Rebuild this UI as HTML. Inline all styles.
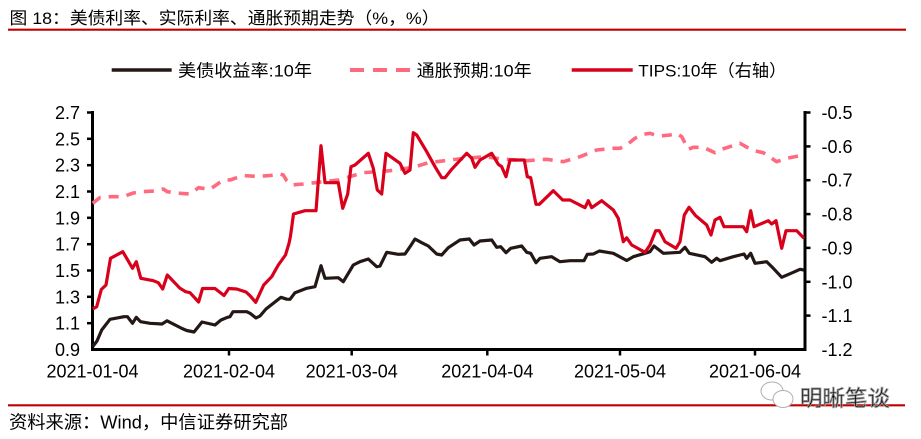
<!DOCTYPE html>
<html>
<head>
<meta charset="utf-8">
<style>
  html, body { margin:0; padding:0; background:#fff; }
  svg { display:block; }
  text { font-family: "Liberation Sans", "Noto Sans CJK SC", sans-serif; fill:#000; }
</style>
</head>
<body>
<svg width="921" height="439" viewBox="0 0 921 439" xmlns="http://www.w3.org/2000/svg">
  <!-- Title -->
  <text x="9.5" y="24" font-size="17" textLength="430" lengthAdjust="spacingAndGlyphs">图 18：美债利率、实际利率、通胀预期走势（%，%）</text>
  <line x1="8" y1="29.7" x2="906" y2="29.7" stroke="#C00000" stroke-width="2.2"/>

  <!-- Legend -->
  <line x1="111.7" y1="70" x2="171.7" y2="70" stroke="#231815" stroke-width="3.5"/>
  <text x="178" y="76.5" font-size="17" textLength="134" lengthAdjust="spacingAndGlyphs">美债收益率:10年</text>
  <line x1="350" y1="70" x2="412" y2="70" stroke="#FF6B7E" stroke-width="4" stroke-dasharray="14,9"/>
  <text x="416.7" y="76.5" font-size="17" textLength="115" lengthAdjust="spacingAndGlyphs">通胀预期:10年</text>
  <line x1="571.7" y1="70" x2="632.7" y2="70" stroke="#D9001B" stroke-width="3.5"/>
  <text x="638.3" y="76.5" font-size="17" textLength="148" lengthAdjust="spacingAndGlyphs">TIPS:10年（右轴）</text>

  <!-- Axes -->
  <g stroke="#000" stroke-width="3">
    <line x1="92.5" y1="111" x2="92.5" y2="351"/>
    <line x1="805" y1="111" x2="805" y2="351"/>
    <line x1="91" y1="349.5" x2="806.5" y2="349.5"/>
  </g>
  <g stroke="#000" stroke-width="2.5">
    <!-- left ticks -->
    <line x1="87" y1="112.5" x2="92" y2="112.5"/>
    <line x1="87" y1="138.8" x2="92" y2="138.8"/>
    <line x1="87" y1="165.2" x2="92" y2="165.2"/>
    <line x1="87" y1="191.5" x2="92" y2="191.5"/>
    <line x1="87" y1="217.8" x2="92" y2="217.8"/>
    <line x1="87" y1="244.2" x2="92" y2="244.2"/>
    <line x1="87" y1="270.5" x2="92" y2="270.5"/>
    <line x1="87" y1="296.8" x2="92" y2="296.8"/>
    <line x1="87" y1="323.2" x2="92" y2="323.2"/>
    <!-- right ticks -->
    <line x1="805" y1="112.5" x2="810.5" y2="112.5"/>
    <line x1="805" y1="146.4" x2="810.5" y2="146.4"/>
    <line x1="805" y1="180.2" x2="810.5" y2="180.2"/>
    <line x1="805" y1="214.1" x2="810.5" y2="214.1"/>
    <line x1="805" y1="247.9" x2="810.5" y2="247.9"/>
    <line x1="805" y1="281.8" x2="810.5" y2="281.8"/>
    <line x1="805" y1="315.6" x2="810.5" y2="315.6"/>
    <!-- x ticks -->
    <line x1="229" y1="349" x2="229" y2="355.5"/>
    <line x1="351.7" y1="349" x2="351.7" y2="355.5"/>
    <line x1="487.3" y1="349" x2="487.3" y2="355.5"/>
    <line x1="620" y1="349" x2="620" y2="355.5"/>
    <line x1="755" y1="349" x2="755" y2="355.5"/>
  </g>

  <!-- Left labels -->
  <g font-size="18" text-anchor="end">
    <text x="80" y="119">2.7</text>
    <text x="80" y="145.3">2.5</text>
    <text x="80" y="171.7">2.3</text>
    <text x="80" y="198">2.1</text>
    <text x="80" y="224.3">1.9</text>
    <text x="80" y="250.7">1.7</text>
    <text x="80" y="277">1.5</text>
    <text x="80" y="303.3">1.3</text>
    <text x="80" y="329.7">1.1</text>
    <text x="80" y="356">0.9</text>
  </g>
  <!-- Right labels -->
  <g font-size="18">
    <text x="821.5" y="119">-0.5</text>
    <text x="821.5" y="152.9">-0.6</text>
    <text x="821.5" y="186.7">-0.7</text>
    <text x="821.5" y="220.6">-0.8</text>
    <text x="821.5" y="254.4">-0.9</text>
    <text x="821.5" y="288.3">-1.0</text>
    <text x="821.5" y="322.1">-1.1</text>
    <text x="821.5" y="356">-1.2</text>
  </g>
  <!-- X labels -->
  <g font-size="18" text-anchor="middle">
    <text x="92.5" y="377.5">2021-01-04</text>
    <text x="229" y="377.5">2021-02-04</text>
    <text x="351.7" y="377.5">2021-03-04</text>
    <text x="487.3" y="377.5">2021-04-04</text>
    <text x="620" y="377.5">2021-05-04</text>
    <text x="755" y="377.5">2021-06-04</text>
  </g>

  <!-- Pink dashed: inflation expectations -->
  <polyline fill="none" stroke="#FF6B7E" stroke-width="3.6" stroke-dasharray="10,8" stroke-linejoin="round"
    points="92.7,203.3 100,197.5 110,196.7 123,196.7 133.3,193 140,191.7 155,191 163.3,189 167.3,191.7 180,193.3 190,194 198.6,187.7 210,189.3 220,182.3 225,179.5 230,180 243.3,175.5 256.7,176.5 270,175.5 280,174 283.3,175 286.7,180.7 291.7,185 303.3,184 323.3,181.7 338.3,180 363.3,172.7 390,170.7 413.3,167.3 428.3,162.7 436.7,161.7 458.3,159 485,156.7 501.7,159 526.7,160.7 546.7,159.3 563.3,161.7 580,156.7 596.7,150 613.3,148.3 620,148.3 626.7,145 635,138.3 643.3,134.3 650,133.3 655,135 660,136 670,135 676.7,133.3 681.7,136.7 688.3,149.3 693.3,147.3 703.3,147.3 715,152.7 721.7,149.3 740,143.3 751.7,150 763.3,152.7 776.7,161.7 786.7,158.3 804,155"/>

  <!-- Black: nominal yield -->
  <polyline fill="none" stroke="#231815" stroke-width="3.2" stroke-linejoin="round"
    points="92.7,346.7 97,341 101.7,330 110,319.3 124,316.7 127.5,316.7 132.5,323.3 136.3,317.3 140.5,321.7 150,323.3 162,324 167,320.8 182,328.5 186.7,330.5 194,332 202,322 215,325 221,320 227.5,317.3 230,316.7 233,311.7 246.7,311.7 250,313.3 256,318 260,316 266,309 281,297.3 286.7,299.2 290,299.3 295,292.7 306.7,288.3 315,286.7 321,265.7 325,278.3 338.3,277.7 343.3,281.7 353.3,265 360,261.7 368.3,259 376.7,266.7 380,266 386.7,252.3 398.3,254.3 405,254 410,246.7 415,239 421.7,242.7 428.3,246 436.7,254 441.7,255 448.3,247.7 460,240 469.3,239 474,245 480,241 491.7,240 496.7,247.3 500.7,246.7 506,252.7 510.7,248.3 521.7,246 526.7,252.3 530.7,253.3 536,262.7 540,258.3 551.7,256.7 560,261.7 570,260.7 584,260.7 587.3,254.3 593.3,254 599.3,251 613.3,253.3 626.7,260.5 633.3,256.7 645,253.3 650,251.7 654,246 663.3,253.3 680,252.3 685,247.3 689.3,253.3 705,256.7 711.7,262.3 716.7,258.3 720,260.7 733.3,256.7 744,254 746.7,258.3 750.7,253.3 755,263.3 766.7,261.7 773.3,268.3 781.7,277.3 793.3,272.3 800,269.3 804,270"/>

  <!-- Red: TIPS -->
  <polyline fill="none" stroke="#D9001B" stroke-width="3.2" stroke-linejoin="round"
    points="92.7,309 96.7,306.7 101.3,289.5 106,285 110.5,258.3 122.8,251.7 127.3,259.3 132.5,268.3 136.3,261.7 140.8,278.3 153.3,280.7 158.3,282.7 162.7,289 167.3,275 180,288.3 185.7,291.7 190,292.7 198.6,302 202.5,288.5 215,288.5 224,295.5 228.8,288.5 236.7,289 246,292 250,295.7 255.7,302.3 263.7,285 271.7,276.7 278.3,265 285.5,255 289,243.3 290.5,236 293.5,214 305,210.7 316,210.7 321,145.7 325,182.7 338.3,182.7 342.7,208.3 347.7,194 351,166.7 355,165 368.3,153.3 373.3,168.3 377.3,190 381.7,194 386,153.3 400,163.3 405,173.3 410,170 413.3,132.7 416.7,135 426.7,151.7 435,166.7 441.7,177.7 445,177.7 451.7,169.3 466.7,153.3 471.7,158.3 475,167.3 480,160 491.7,153.3 498.3,164.3 501.7,166.7 506,176.7 510,160 524.3,160 527.3,176.7 530.7,177.7 536,204.3 539.3,204.3 553.3,190.7 562.7,200 570,200 585,207.7 588.3,200.7 591.7,207.7 601.7,200.7 613.3,210 618.3,218.3 623.3,241.7 626.7,237.8 631.7,245 645,252.3 650,245 655.7,230.7 659.3,230.7 665,241.7 676,248.3 680,241.7 684.3,215 689,207.3 695.7,215.7 706.7,225 711,235 715,220 720,217.3 724,226.7 743.3,226.7 746.7,231.7 750.7,210.7 754,226.7 768.3,220.7 771.7,224 776,220.7 781.7,248.3 786,230.7 796.7,230.7 804,238.3"/>

  <!-- Footer -->
  <line x1="8" y1="405.3" x2="905" y2="405.3" stroke="#C00000" stroke-width="2.2"/>
  <text x="9" y="428.5" font-size="18" textLength="279" lengthAdjust="spacingAndGlyphs">资料来源：Wind，中信证券研究部</text>

  <!-- Watermark -->
  <g fill="#fff" stroke="#B0B0B0" stroke-width="1">
    <ellipse cx="772" cy="391" rx="11" ry="9"/>
    <ellipse cx="783" cy="399" rx="10" ry="8.5"/>
  </g>
  <text x="800" y="406" font-size="22" fill="#fff" stroke="#9A9A9A" stroke-width="0.9" textLength="90" lengthAdjust="spacingAndGlyphs">明晰笔谈</text>
</svg>
</body>
</html>
